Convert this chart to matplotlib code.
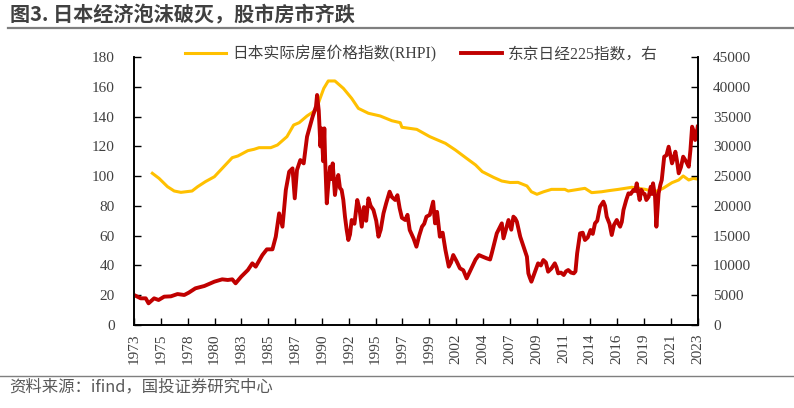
import matplotlib
matplotlib.use("Agg")
import matplotlib.pyplot as plt
from matplotlib.lines import Line2D
import numpy as np

# Japan real house price index (left axis) vs Nikkei 225 (right axis),
# values read off the reference picture.

rhpi_years = [1974.64, 1975.24, 1976.0, 1976.6, 1977.2, 1978.2, 1978.7, 1979.4,
              1980.2, 1980.9, 1981.8, 1982.3, 1983.2, 1983.75, 1984.2, 1985.25,
              1985.85, 1986.7, 1987.3, 1987.8, 1988.5, 1989.3, 1989.67, 1990.0,
              1990.4, 1991.0, 1991.76, 1992.5, 1993.1, 1994.0, 1995.05, 1996.1,
              1996.85, 1997.0, 1998.33, 1999.5, 2000.9, 2001.8, 2002.8, 2003.6,
              2004.2, 2005.2, 2005.95, 2006.7, 2007.4, 2008.2, 2008.6, 2009.1,
              2009.7, 2010.4, 2011.6, 2011.9, 2013.4, 2014.0, 2014.9, 2015.5,
              2016.4, 2017.0, 2017.6, 2018.8, 2019.7, 2020.4, 2021.2, 2021.8,
              2022.2, 2022.7, 2023.1, 2023.5]
rhpi = [101.9, 98.5, 92.9, 90.0, 89.1, 90.0, 92.9, 96.3,
        99.6, 105.2, 112.4, 113.5, 117.1, 118.0, 119.1, 119.1,
        120.9, 126.5, 134.3, 135.9, 140.4, 144.4, 152.2, 158.9,
        163.9, 163.9, 158.9, 152.2, 145.5, 142.2, 140.4, 137.2,
        135.9, 132.8, 131.4, 126.5, 122.0, 117.5, 111.9, 107.5,
        103.0, 99.2, 96.7, 95.7, 95.8, 93.4, 89.5, 87.8,
        89.5, 91.1, 91.1, 90.0, 91.8, 88.9, 89.5, 90.2,
        91.1, 91.8, 92.5, 91.1, 89.5, 91.8, 95.6, 97.4,
        100.1, 97.4, 98.5, 98.0]

# main turning points of the Nikkei line
nikkei_years = [1973.0, 1973.6, 1974.05, 1974.3, 1974.8, 1975.2, 1975.7, 1976.3,
                1976.9, 1977.5, 1977.9, 1978.5, 1979.3, 1980.2, 1980.9, 1981.4,
                1981.8, 1982.1, 1982.6, 1983.2, 1983.6, 1983.9, 1984.5, 1984.9,
                1985.4, 1985.7, 1986.0, 1986.3, 1986.6, 1986.9, 1987.2, 1987.4,
                1987.6, 1987.9, 1988.2, 1988.5, 1989.0, 1989.3, 1989.4, 1989.55,
                1989.7, 1989.8, 1989.95, 1990.05, 1990.12, 1990.27, 1990.57, 1990.8,
                1991.0, 1991.3, 1991.6, 1991.9, 1992.2, 1992.5, 1993.0, 1993.4,
                1994.0, 1994.45, 1994.9, 1995.35, 1995.9, 1996.4, 1996.8, 1997.3,
                1997.7, 1998.3, 1998.8, 1999.2, 1999.8, 1999.97, 2000.4, 2000.9,
                2001.2, 2001.6, 2002.2, 2002.8, 2003.3, 2003.9, 2004.6, 2005.05,
                2005.5, 2005.95, 2006.1, 2006.55, 2006.99, 2007.3, 2007.6, 2007.9,
                2008.2, 2008.33, 2008.6, 2008.93, 2009.2, 2009.67, 2010.1, 2010.7,
                2011.0, 2011.5, 2011.9, 2012.4, 2012.7, 2012.96, 2013.4, 2013.9,
                2014.3, 2014.75, 2015.05, 2015.35, 2015.8, 2016.25, 2016.55, 2016.85,
                2017.3, 2017.74, 2018.04, 2018.3, 2018.6, 2018.9, 2019.3, 2019.5,
                2019.68, 2019.8, 2020.0, 2020.28, 2020.5, 2020.9, 2021.2, 2021.5,
                2021.8, 2022.2, 2022.7, 2022.85, 2023.0, 2023.27, 2023.5]
nikkei = [5040, 4480, 4480, 3640, 4480, 4200, 4760, 4815,
          5200, 5040, 5430, 6160, 6550, 7280, 7670, 7560,
          7670, 7000, 8115, 9235, 10355, 9795, 11750, 12705,
          12705, 14830, 18750, 16510, 22670, 25740, 26300, 21270,
          26025, 27700, 27140, 31620, 34980, 36660, 38620, 36000,
          30000, 33000, 27500, 33020, 27980, 20430, 26580, 27140,
          21830, 25190, 22670, 18190, 14270, 17630, 20990, 16510,
          21270, 19310, 14830, 18750, 22390, 20990, 19590, 17630,
          15950, 13150, 16510, 18190, 20710, 17070, 14830, 12590,
          9795, 11750, 9515, 7835, 9795, 11750, 11190, 12030,
          15390, 17070, 14550, 17630, 18190, 17350, 14830, 13150,
          11470, 8675, 7275, 8955, 10355, 10910, 8955, 10355,
          8675, 8395, 9235, 8675, 12030, 15390, 14270, 15950,
          17070, 19870, 20710, 18190, 15110, 17630, 16510, 19310,
          22110, 22670, 23790, 20990, 22110, 20990, 23230, 23790,
          21550, 16510, 22110, 24350, 28260, 29940, 27140, 29100,
          25470, 28260, 26580, 29380, 33300, 31060, 33300]

# smaller wiggles between the turning points
wiggle_years = [1990.4, 1990.7, 1991.15, 1991.45, 1991.75, 1992.05, 1992.35, 1992.75,
                1993.2, 1993.6, 1993.8, 1994.2, 1994.7, 1995.1, 1995.6, 1996.1,
                1996.6, 1997.0, 1997.5, 1998.05, 1998.55, 1999.0, 1999.5, 2000.15,
                2000.65, 2001.4, 2001.9, 2002.5, 2003.6, 2004.2, 2004.9, 2006.8,
                2007.15, 2008.45, 2009.45, 2009.9, 2010.4, 2010.85, 2011.25, 2011.7,
                2012.15, 2012.55, 2013.2, 2013.65, 2014.1, 2014.5, 2015.2, 2015.6,
                2016.0, 2016.4, 2016.7, 2017.1, 2017.5, 2017.9, 2018.15, 2018.45,
                2018.75, 2019.1, 2019.4, 2020.15, 2020.4, 2020.7, 2021.05, 2021.35,
                2021.65, 2022.0, 2022.45, 2023.15, 2023.4]
wiggle = [23500, 24500, 24000, 23000, 21000, 16000, 15200, 17000,
          19500, 19800, 17500, 20000, 17500, 16000, 20500, 21500,
          21800, 18000, 18500, 14500, 15000, 17000, 18500, 19000,
          15500, 10500, 10700, 9200, 11000, 11500, 11000, 16000,
          17900, 8000, 10000, 10500, 9500, 9700, 8800, 9000,
          8800, 9000, 15500, 14700, 15300, 17500, 20000, 17000,
          16800, 17000, 17300, 21000, 22000, 22500, 22500, 22700,
          22000, 21500, 22000, 23500, 26500, 28500, 28500, 28000,
          27500, 26500, 27500, 32500, 32000]

tick_labels = ["1973", "1975", "1978", "1980", "1983", "1985", "1987", "1990",
               "1992", "1995", "1997", "1999", "2002", "2004", "2007", "2009",
               "2011", "2014", "2016", "2019", "2021", "2023"]

x_start, x_end = 1973.0, 2023.5
cjk = ["Liberation Serif", "Noto Sans CJK SC"]
cjk_sans = ["Noto Sans CJK SC", "DejaVu Sans"]
num_font = "Liberation Serif"
text_grey = "#404040"


def main():
    ny = np.array(nikkei_years + wiggle_years)
    nv = np.array(nikkei + wiggle, dtype=float)
    order = np.argsort(ny)
    ny, nv = ny[order], nv[order]

    fig = plt.figure(figsize=(7.94, 4.08), dpi=100)
    ax = fig.add_axes([0.1688, 0.2034, 0.7099, 0.6569])
    ax2 = ax.twinx()

    ax.plot(rhpi_years, rhpi, color="#FFC000", linewidth=2.2,
            solid_joinstyle="round", label="日本实际房屋价格指数(RHPI)")
    ax2.plot(ny, nv, color="#C00000", linewidth=2.8,
             solid_joinstyle="round", label="东京日经225指数，右")

    ax.set_xlim(x_start, x_end)
    ax.set_ylim(0, 180)
    ax2.set_ylim(0, 45000)
    ax.set_yticks(np.arange(0, 181, 20))
    ax2.set_yticks(np.arange(0, 45001, 5000))

    ax.set_xticks(np.linspace(x_start, x_end, len(tick_labels)))
    ax.set_xticklabels(tick_labels, rotation=90)

    for a in (ax, ax2):
        a.spines["top"].set_visible(False)
        for sp in a.spines.values():
            sp.set_linewidth(1.2)
            sp.set_color("black")
    ax.tick_params(axis="y", direction="in", length=5, width=1.0,
                   colors="black", labelcolor=text_grey, labelsize=11, pad=14)
    ax.tick_params(axis="x", direction="in", length=5, width=1.0,
                   colors="black", labelcolor=text_grey, labelsize=11, pad=6)
    ax2.tick_params(axis="y", direction="in", length=5, width=1.0,
                    colors="black", labelcolor=text_grey, labelsize=11, pad=11)
    for lab in ax.get_xticklabels() + ax.get_yticklabels() + ax2.get_yticklabels():
        lab.set_family(num_font)

    h1, l1 = ax.get_legend_handles_labels()
    h2, l2 = ax2.get_legend_handles_labels()
    leg = fig.legend(h1 + h2, l1 + l2, loc="center", bbox_to_anchor=(0.531, 0.868),
                     ncol=2, frameon=False, handlelength=2.6, columnspacing=1.6,
                     handletextpad=0.4, prop={"family": cjk, "size": 11.3})
    for t in leg.get_texts():
        t.set_color(text_grey)

    fig.text(0.013, 0.964, "图3. 日本经济泡沫破灭，股市房市齐跌", fontsize=14.5,
             fontweight="bold", family=cjk_sans, color=text_grey,
             va="center", ha="left")
    fig.add_artist(Line2D([0.01, 1.0], [0.931, 0.931], color="#7f7f7f", linewidth=1.6))
    fig.add_artist(Line2D([0.0, 1.0], [0.078, 0.078], color="#7f7f7f", linewidth=1.0))
    fig.text(0.012, 0.052, "资料来源：ifind，国投证券研究中心", fontsize=11.8,
             style="italic", family=cjk_sans, color="#595959",
             va="center", ha="left")

    fig.savefig("out.png", dpi=100)
    plt.close(fig)


if __name__ == "__main__":
    main()
